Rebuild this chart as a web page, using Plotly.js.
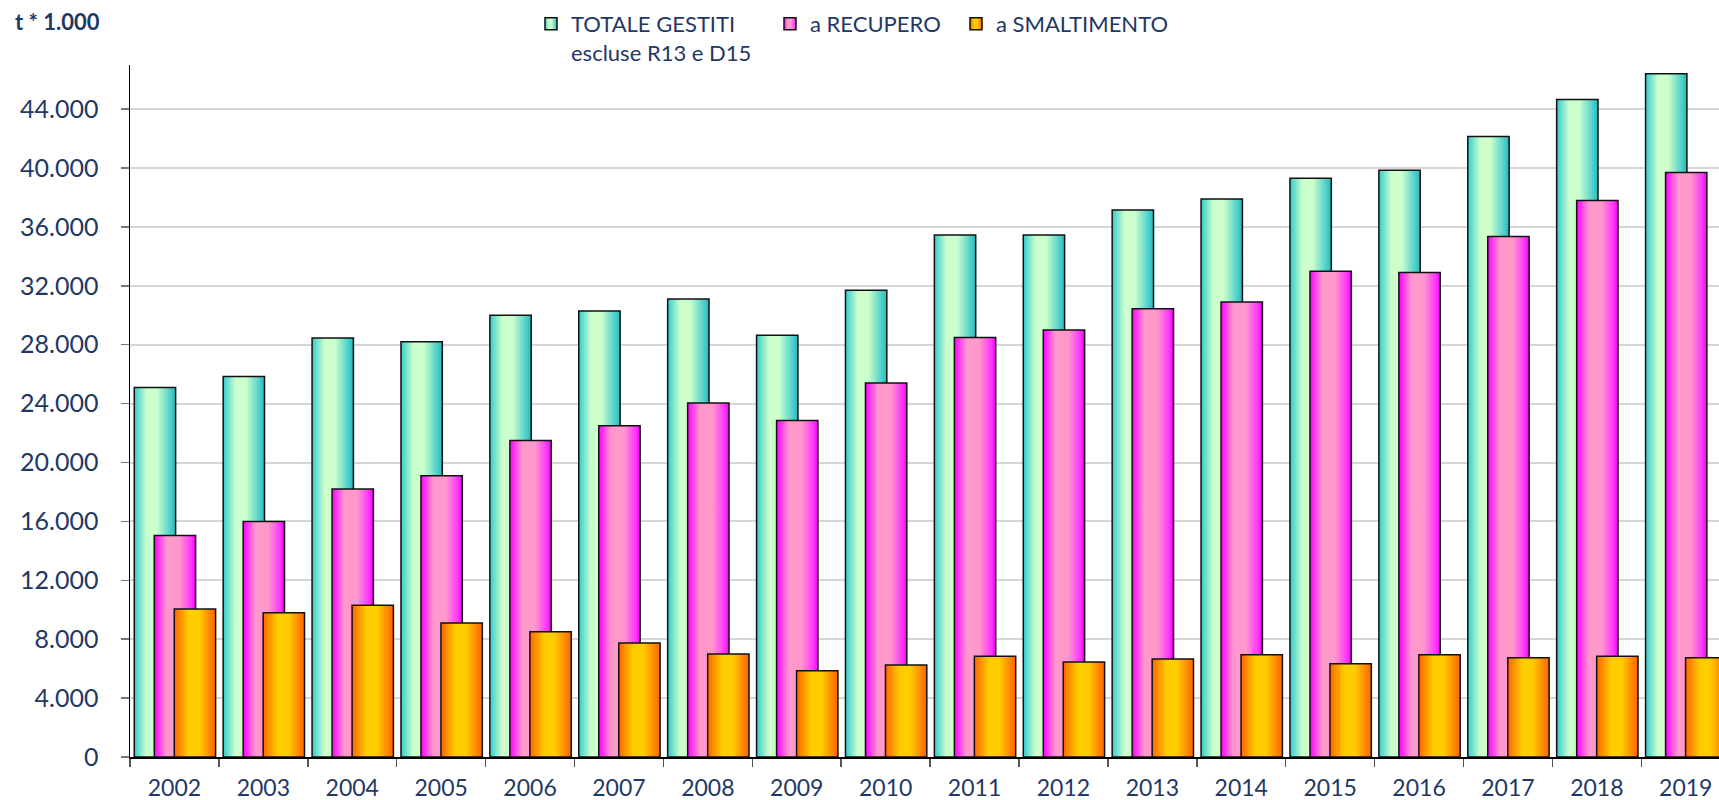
<!DOCTYPE html>
<html>
<head>
<meta charset="utf-8">
<script src="https://cdn.plot.ly/plotly-3.0.1.min.js"></script>
<style>
html,body{margin:0;padding:0;background:#fff;}
#chart{width:1719px;height:800px;}
</style>
</head>
<body>
<div id="chart"></div>
<script>
var years = ['2002','2003','2004','2005','2006','2007','2008','2009','2010','2011','2012','2013','2014','2015','2016','2017','2018','2019'];
var totale = [25100, 25850, 28450, 28200, 30000, 30300, 31100, 28650, 31700, 35450, 35450, 37150, 37900, 39300, 39850, 42150, 44650, 46400];
var recupero = [15050, 16000, 18200, 19100, 21500, 22500, 24050, 22850, 25400, 28500, 29000, 30450, 30900, 33000, 32900, 35350, 37800, 39700];
var smaltimento = [10050, 9800, 10300, 9100, 8500, 7750, 7000, 5850, 6250, 6850, 6450, 6650, 6950, 6330, 6950, 6740, 6850, 6740];
var seriesNames = ['TOTALE GESTITI<br>escluse R13 e D15', 'a RECUPERO', 'a SMALTIMENTO'];
var tickVals = [0, 4000, 8000, 12000, 16000, 20000, 24000, 28000, 32000, 36000, 40000, 44000];
var tickText = ['0', '4.000', '8.000', '12.000', '16.000', '20.000', '24.000', '28.000', '32.000', '36.000', '40.000', '44.000'];

var navy = '#1F3864';
var font = 'Lato, "Open Sans", sans-serif';
var barW = 0.465;

function barTrace(y, name, color, offset, legendId) {
  return {
    type: 'bar', x: years, y: y, name: name,
    width: barW, offset: offset,
    marker: {color: color, line: {color: '#111', width: 1.5}},
    legend: legendId, hoverinfo: 'skip'
  };
}

var data = [
  barTrace(totale, seriesNames[0], '#8FE8D8', -0.452, 'legend'),
  barTrace(recupero, seriesNames[1], '#FF66DD', -0.227, 'legend2'),
  barTrace(smaltimento, seriesNames[2], '#FFA000', -0.002, 'legend3')
];

function legendAt(xpx) {
  return {
    orientation: 'h', xref: 'container', yref: 'container',
    x: xpx / 1719, y: 1 - 3 / 800, xanchor: 'left', yanchor: 'top',
    font: {family: font, size: 22, color: navy}, valign: 'top',
    bgcolor: 'rgba(0,0,0,0)', borderwidth: 0
  };
}

var layout = {
  width: 1719, height: 800,
  margin: {l: 130, r: 0, t: 65, b: 43, pad: 0, autoexpand: false},
  paper_bgcolor: '#fff', plot_bgcolor: '#fff',
  barmode: 'overlay',
  showlegend: true,
  legend: legendAt(531),
  legend2: legendAt(770),
  legend3: legendAt(956),
  xaxis: {
    type: 'category', range: [-0.5, 17.374],
    showline: true, linecolor: '#000', linewidth: 1.5,
    ticks: 'outside', tickson: 'boundaries', ticklen: 8, tickcolor: '#555', tickwidth: 1.5,
    showgrid: false, zeroline: false,
    tickfont: {family: font, size: 23, color: navy},
    ticklabelstandoff: 10
  },
  yaxis: {
    range: [0, 47000], tickmode: 'array', tickvals: tickVals, ticktext: tickText,
    showline: true, linecolor: '#000', linewidth: 1.5,
    ticks: 'outside', ticklen: 8, tickcolor: '#777', tickwidth: 1.5,
    showgrid: true, gridcolor: '#D6D6D6', gridwidth: 2, zeroline: false,
    tickfont: {family: font, size: 25, color: navy},
    ticklabelstandoff: 17
  },
  annotations: [{
    text: '<b>t * 1.000</b>', xref: 'paper', yref: 'paper',
    x: -0.0736, y: 1.0625, xanchor: 'left', yanchor: 'middle', showarrow: false,
    font: {family: font, size: 22, color: navy}
  }]
};

var gradients = [
  {id: 'gTeal', stops: [[0, '#33CCCC'], [0.3, '#CCFFCC'], [0.55, '#CCFFCC'], [0.9, '#44CCCC'], [1, '#2FB5B5']]},
  {id: 'gPink', stops: [[0, '#FF00FF'], [0.3, '#FF99CC'], [0.6, '#FF99CC'], [0.9, '#FF33FF'], [1, '#EE00EE']]},
  {id: 'gOrange', stops: [[0, '#FF6600'], [0.35, '#FFCC00'], [0.6, '#FFCC00'], [0.92, '#FF7700'], [1, '#FF6600']]}
];

function applyGradients(gd) {
  var NS = 'http://www.w3.org/2000/svg';
  var svg = gd.querySelector('svg.main-svg');
  var defs = svg.querySelector('defs') || svg.insertBefore(document.createElementNS(NS, 'defs'), svg.firstChild);
  gradients.forEach(function (g) {
    var lg = document.createElementNS(NS, 'linearGradient');
    lg.setAttribute('id', g.id);
    lg.setAttribute('x1', '0'); lg.setAttribute('y1', '0');
    lg.setAttribute('x2', '1'); lg.setAttribute('y2', '0');
    g.stops.forEach(function (s) {
      var st = document.createElementNS(NS, 'stop');
      st.setAttribute('offset', s[0]);
      st.setAttribute('stop-color', s[1]);
      lg.appendChild(st);
    });
    defs.appendChild(lg);
  });
  var traces = gd.querySelectorAll('.barlayer .trace');
  traces.forEach(function (t, i) {
    t.querySelectorAll('.point path').forEach(function (p) {
      p.style.fill = 'url(#' + gradients[i].id + ')';
    });
  });
  var legends = ['legend', 'legend2', 'legend3'];
  legends.forEach(function (cls, i) {
    gd.querySelectorAll('g.' + cls + ' .legendpoints path').forEach(function (p) {
      p.style.fill = 'url(#' + gradients[i].id + ')';
    });
  });
}

Plotly.newPlot('chart', data, layout, {staticPlot: true, displayModeBar: false}).then(applyGradients);
</script>
</body>
</html>
